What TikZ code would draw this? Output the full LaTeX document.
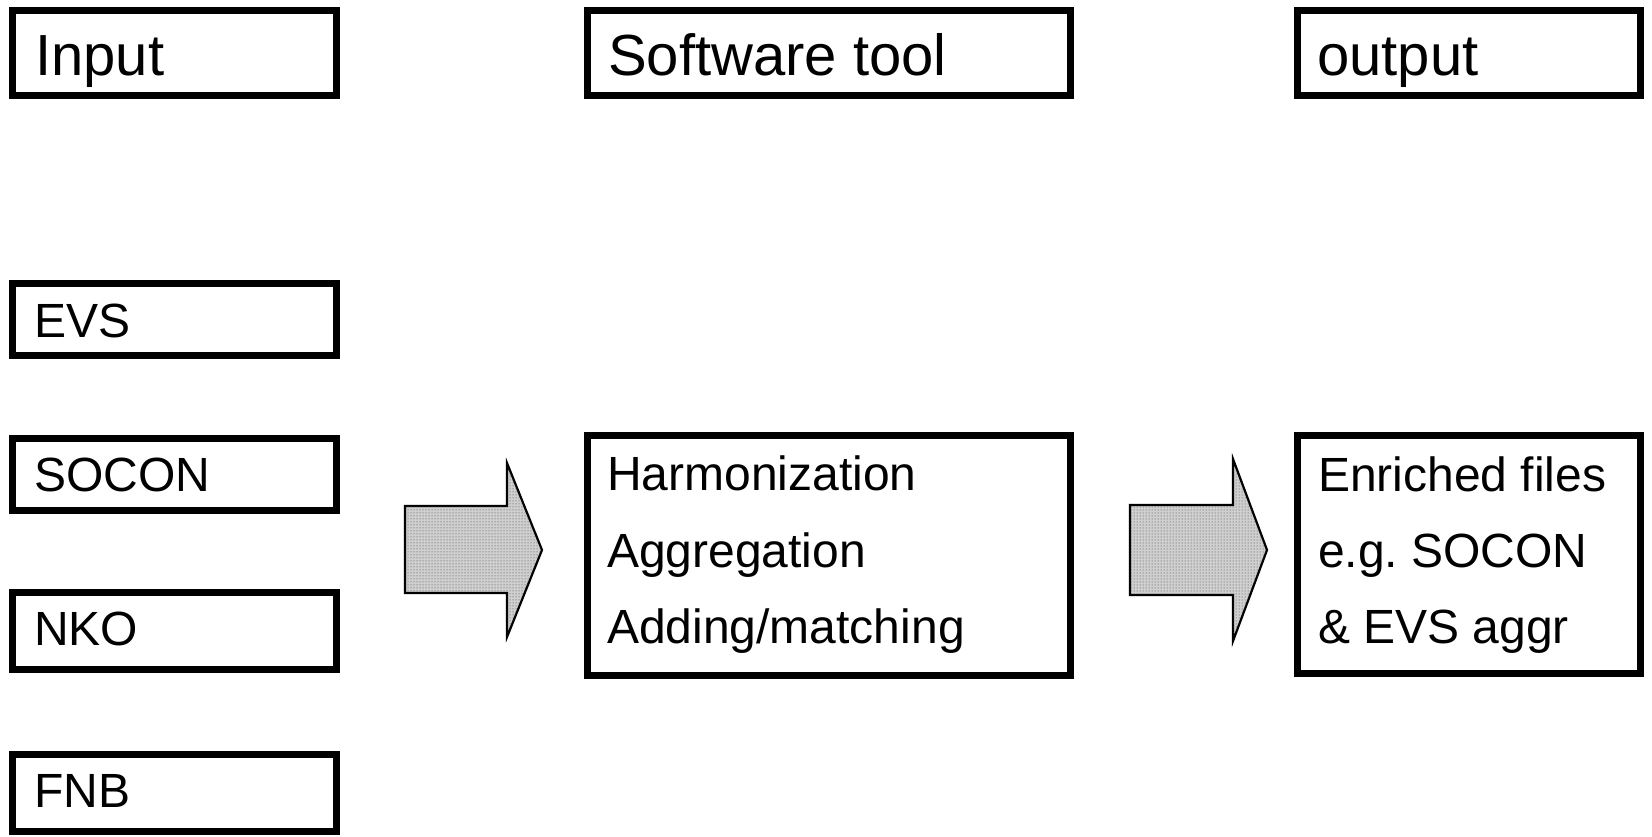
\documentclass[tikz,border=0pt]{standalone}
\usepackage{fontspec}
\setmainfont{Liberation Sans}
\usetikzlibrary{patterns}
\frenchspacing
\begin{document}
\begin{tikzpicture}[x=1pt,y=-1pt,
  box/.style={draw=black,line width=7pt,rectangle,inner sep=0pt,miter limit=10},
  lbl/.style={inner sep=0pt,anchor=base west,font=\fontsize{48}{58}\selectfont},
  ttl/.style={lbl,font=\fontsize{58}{70}\selectfont},
  barrow/.style={draw=black,line width=2.2pt,fill=gray!38,postaction={pattern=dots,pattern color=gray!50!black}}]
\useasboundingbox (0,0) rectangle (1652,837);
% boxes
\node[box,minimum width=324pt,minimum height=85pt] (input) at (174,53.5) {};
\node[box,minimum width=483pt,minimum height=85pt] (tool) at (828.5,53.5) {};
\node[box,minimum width=343pt,minimum height=85pt] (output) at (1468.5,53.5) {};
\node[box,minimum width=324pt,minimum height=72pt] (evs) at (174,319) {};
\node[box,minimum width=324pt,minimum height=72pt] (socon) at (174,474) {};
\node[box,minimum width=324pt,minimum height=77pt] (nko) at (174,630.5) {};
\node[box,minimum width=324pt,minimum height=77pt] (fnb) at (174,792.5) {};
\node[box,minimum width=483pt,minimum height=240pt] (proc) at (828.5,555) {};
\node[box,minimum width=343pt,minimum height=238pt] (res) at (1468.5,554) {};
% labels
\node[ttl] (tInput) at (35,76) {Input};
\node[ttl] (tTool) at (608,76) {Software tool};
\node[ttl] (tOutput) at (1317,76) {output};
\node[lbl] (tEVS) at (34,337) {EVS};
\node[lbl] (tSOCON) at (34,491) {SOCON};
\node[lbl] (tNKO) at (34,645) {NKO};
\node[lbl] (tFNB) at (34,807) {FNB};
\node[lbl] (tH) at (607,490) {Harmonization};
\node[lbl] (tAg) at (607,567) {Aggregation};
\node[lbl] (tAd) at (607,643) {Adding/matching};
\node[lbl] (tE) at (1318,491) {Enriched files};
\node[lbl] (tEg) at (1318,567) {e.g. SOCON};
\node[lbl] (tEVSa) at (1318,643) {\& EVS aggr};
% block arrows
\draw[barrow] (405,506) -- (507,506) -- (507,463) -- (542,550) -- (507,637) -- (507,593) -- (405,593) -- cycle;
\draw[barrow] (1130,505) -- (1233,505) -- (1233,459) -- (1267,550) -- (1233,641) -- (1233,595) -- (1130,595) -- cycle;
\end{tikzpicture}
\end{document}
